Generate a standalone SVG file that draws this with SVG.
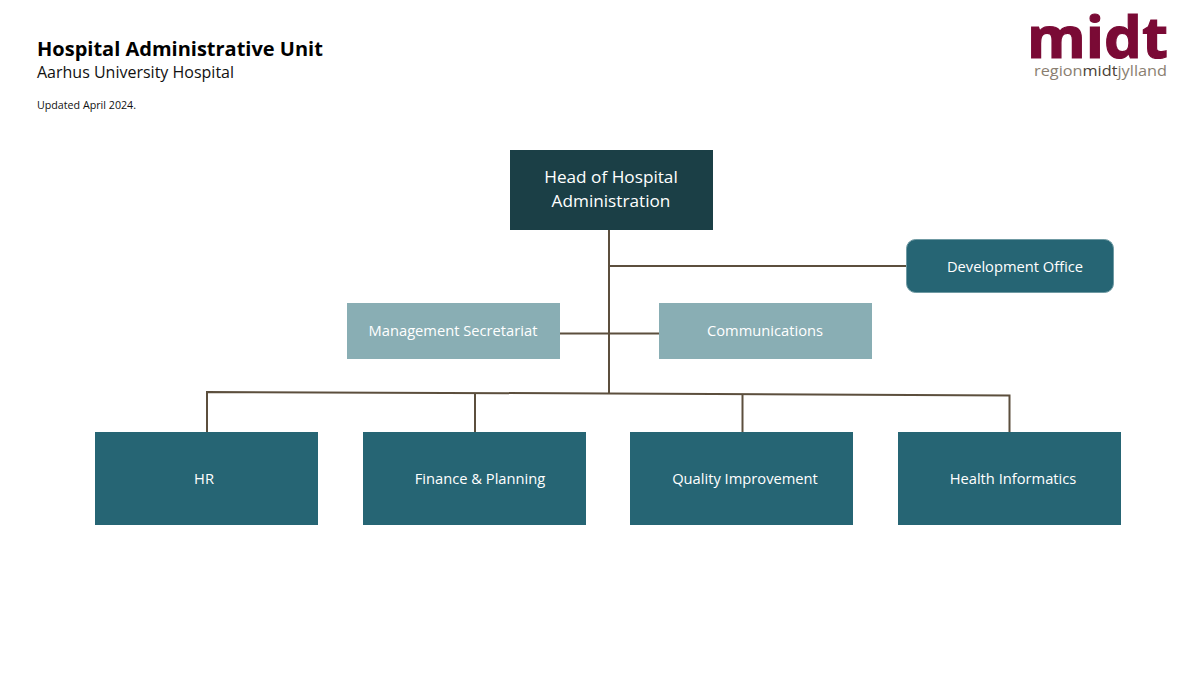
<svg xmlns="http://www.w3.org/2000/svg" width="1200" height="700" viewBox="0 0 1200 700">
<style>
text{font-family:"Open Sans","Noto Sans",sans-serif}
.lbl{fill:#fff;font-size:14.700px;text-anchor:middle}
.big{font-size:17.200px}
.dark{fill:#1b3f46}
.teal{fill:#266574}
.light{fill:#89aeb4}
.conn{fill:none;stroke:#5c4f3d;stroke-width:2}
</style>
<rect width="1200" height="700" fill="#fff"/>
<g id="header">
<text x="37" y="56" font-size="20" font-weight="700" fill="#000">Hospital Administrative Unit</text>
<text x="37" y="78" font-size="16" fill="#111">Aarhus University Hospital</text>
<text x="37" y="109" font-size="10.700" fill="#111">Updated April 2024.</text>
</g>
<g id="logo">
<text x="1027" y="58" font-size="58" font-weight="700" fill="#7a0a35" stroke="#7a0a35" stroke-width="1.200" textLength="141" lengthAdjust="spacingAndGlyphs">midt</text>
<text x="1034" y="76" font-size="15" fill="#8a7e70" textLength="133" lengthAdjust="spacingAndGlyphs">region<tspan fill="#4a3f35">midt</tspan>jylland</text>
</g>
<g id="connectors">
<path class="conn" d="M609 230V393"/>
<path class="conn" d="M609 266H907"/>
<path class="conn" d="M560 333.500H659"/>
<path class="conn" d="M207 432V392L609 393.500L1009.500 395.500V432"/>
<path class="conn" d="M475 393V432"/>
<path class="conn" d="M742.500 394V432"/>
</g>
<g id="head"><rect class="dark" x="510" y="150" width="203" height="80"/>
<text class="lbl big" x="611" y="183">Head of Hospital</text>
<text class="lbl big" x="611" y="207">Administration</text></g>
<g id="development"><rect class="teal" x="906.500" y="239.500" width="207" height="53" rx="9" stroke="#6f9aa3" stroke-width="1"/>
<text class="lbl" x="1015" y="272">Development Office</text></g>
<g id="secretariat"><rect class="light" x="347" y="303" width="213" height="56"/>
<text class="lbl" x="453" y="336">Management Secretariat</text></g>
<g id="communications"><rect class="light" x="659" y="303" width="213" height="56"/>
<text class="lbl" x="765" y="336">Communications</text></g>
<g id="hr"><rect class="teal" x="95" y="432" width="223" height="93"/>
<text class="lbl" x="204" y="484">HR</text></g>
<g id="finance"><rect class="teal" x="363" y="432" width="223" height="93"/>
<text class="lbl" x="480" y="484">Finance &amp; Planning</text></g>
<g id="quality"><rect class="teal" x="630" y="432" width="223" height="93"/>
<text class="lbl" x="745" y="484">Quality Improvement</text></g>
<g id="informatics"><rect class="teal" x="898" y="432" width="223" height="93"/>
<text class="lbl" x="1013" y="484">Health Informatics</text></g>
</svg>
